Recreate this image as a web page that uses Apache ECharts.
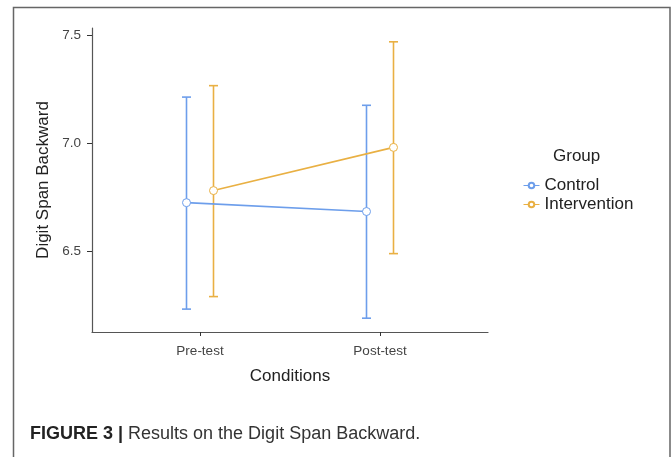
<!DOCTYPE html>
<html>
<head>
<meta charset="utf-8">
<script src="https://cdn.jsdelivr.net/npm/echarts@6/dist/echarts.min.js"></script>
<style>html,body{margin:0;padding:0;background:#fff;}#c{width:672px;height:457px;}</style>
</head>
<body>
<div id="c"></div>
<script>
const categories = ['Pre-test', 'Post-test'];
const groups = ['Control', 'Intervention'];
const controlMean = [6.726, 6.685];
const controlLow = [6.233, 6.191];
const controlHigh = [7.215, 7.177];
const interventionMean = [6.782, 6.982];
const interventionLow = [6.291, 6.490];
const interventionHigh = [7.268, 7.471];
const yTicks = [6.5, 7.0, 7.5];
const colors = ['#6d9eeb', '#e9b043'];
const dodge = 0.075;

const font = 'Liberation Sans, Arial, sans-serif';
const chart = echarts.init(document.getElementById('c'), null, {renderer: 'canvas'});

function pts(means, off) {
  return means.map((m, i) => [i + 1 + off, m]);
}
function bars(lows, highs, off) {
  return lows.map((l, i) => [i + 1 + off, l, highs[i]]);
}
function errRender(color) {
  return function (params, api) {
    const x = api.value(0);
    const lo = api.coord([x, api.value(1)]);
    const hi = api.coord([x, api.value(2)]);
    const hw = 4.5;
    const st = {stroke: color, lineWidth: 1.6};
    return {
      type: 'group',
      children: [
        {type: 'line', shape: {x1: lo[0], y1: lo[1], x2: hi[0], y2: hi[1]}, style: st},
        {type: 'line', shape: {x1: lo[0] - hw, y1: lo[1], x2: lo[0] + hw, y2: lo[1]}, style: st},
        {type: 'line', shape: {x1: hi[0] - hw, y1: hi[1], x2: hi[0] + hw, y2: hi[1]}, style: st}
      ]
    };
  };
}

const series = [];
const meansArr = [controlMean, interventionMean];
const lowArr = [controlLow, interventionLow];
const highArr = [controlHigh, interventionHigh];
groups.forEach((g, k) => {
  const off = k === 0 ? -dodge : dodge;
  series.push({
    type: 'custom',
    name: g + ' err',
    renderItem: errRender(colors[k]),
    data: bars(lowArr[k], highArr[k], off),
    encode: {x: 0, y: [1, 2]},
    z: 1,
    silent: true
  });
});
groups.forEach((g, k) => {
  const off = k === 0 ? -dodge : dodge;
  series.push({
    type: 'line',
    name: g,
    data: pts(meansArr[k], off),
    symbol: 'circle',
    symbolSize: 8,
    lineStyle: {color: colors[k], width: 1.6},
    itemStyle: {color: '#ffffff', borderColor: colors[k], borderWidth: 1},
    z: 3,
    animation: false
  });
});

chart.setOption({
  animation: false,
  grid: {left: 92, right: 184, top: 28, bottom: 125, containLabel: false},
  xAxis: {
    type: 'value', min: 0.4, max: 2.6,
    name: 'Conditions', nameLocation: 'middle', nameGap: 36,
    nameTextStyle: {fontFamily: font, fontSize: 17, color: '#222'},
    axisLine: {show: true, lineStyle: {color: '#555', width: 1.2}},
    axisTick: {show: true, customValues: [1, 2], length: 4, lineStyle: {color: '#333'}},
    axisLabel: {customValues: [1, 2], formatter: v => categories[Math.round(v) - 1] || '',
      fontFamily: font, fontSize: 13.5, color: '#444', margin: 12},
    splitLine: {show: false}
  },
  yAxis: {
    type: 'value', min: 6.127, max: 7.535,
    name: 'Digit Span Backward', nameLocation: 'middle', nameGap: 35,
    nameTextStyle: {fontFamily: font, fontSize: 17, color: '#222'},
    axisLine: {show: true, lineStyle: {color: '#555', width: 1.2}},
    axisTick: {show: true, customValues: yTicks, length: 5, lineStyle: {color: '#333'}},
    axisLabel: {customValues: yTicks, formatter: v => v.toFixed(1),
      fontFamily: font, fontSize: 13.5, color: '#444', margin: 11},
    splitLine: {show: false}
  },
  legend: {
    data: groups,
    orient: 'vertical', left: 518, top: 172,
    itemWidth: 16, itemHeight: 7, itemGap: 2,
    lineStyle: {width: 1},
    textStyle: {fontFamily: font, fontSize: 17, color: '#222'}
  },
  title: {
    left: 25, top: 420,
    text: '{b|FIGURE 3 |} {n|Results on the Digit Span Backward.}',
    textStyle: {
      fontWeight: 'normal',
      rich: {
        b: {fontFamily: font, fontSize: 18, fontWeight: 'bold', color: '#222'},
        n: {fontFamily: font, fontSize: 18, fontWeight: 'normal', color: '#333'}
      }
    }
  },
  graphic: [
    {type: 'polyline', shape: {points: [[13.5, 457], [13.5, 7.5], [670, 7.5], [670, 457]]},
      style: {stroke: '#666', lineWidth: 1.5, fill: null}, silent: true},
    {type: 'text', left: 553, top: 148,
      style: {text: 'Group', fontFamily: font, fontSize: 17, fill: '#222'}}
  ],
  series: series
});
</script>
</body>
</html>
